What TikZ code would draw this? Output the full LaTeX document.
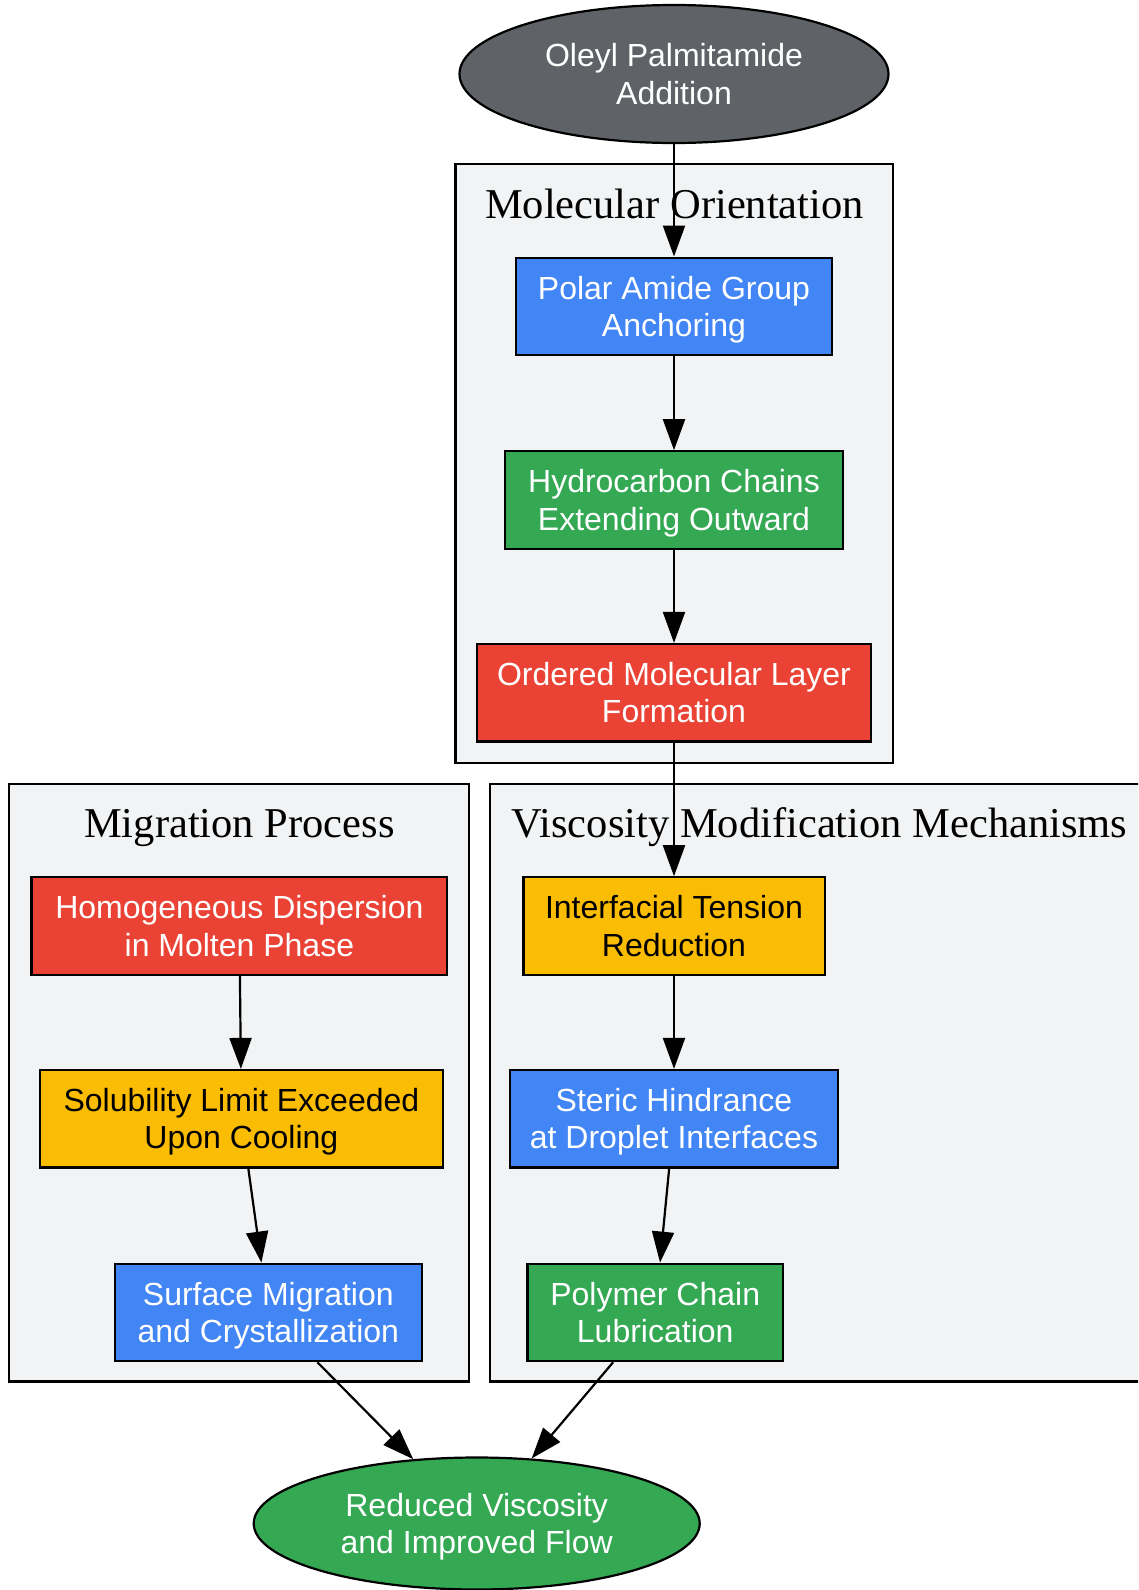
\documentclass[tikz,border=0pt]{standalone}
\usepackage{fontspec}
\setmainfont{Liberation Sans}
\newfontfamily\titlefont{Liberation Serif}
\usetikzlibrary{arrows.meta,shapes.geometric}
\definecolor{cgray}{HTML}{5F6368}
\definecolor{cblue}{HTML}{4285F4}
\definecolor{cgreen}{HTML}{34A853}
\definecolor{cred}{HTML}{EA4335}
\definecolor{cyellow}{HTML}{FBBC04}
\definecolor{clusterbg}{HTML}{F1F3F4}
\newcommand{\ls}{\rule[-7.1pt]{0pt}{37.1pt}}
\begin{document}
\begin{tikzpicture}[x=1pt,y=-1pt,
  box/.style={draw=black,line width=2.2pt,rectangle,inner sep=0pt,minimum height=97.4pt,align=center,font=\fontsize{32}{37.5}\selectfont,text=white},
  oval/.style={draw=black,line width=2.2pt,ellipse,inner sep=0pt,align=center,font=\fontsize{32}{37.5}\selectfont,text=white},
  cluster/.style={draw=black,line width=2.2pt,fill=clusterbg},
  ctitle/.style={anchor=base,inner sep=0pt,font=\titlefont\fontsize{42.5}{51}\selectfont},
  edge/.style={line width=2.2pt,-{Triangle[length=31pt,width=22pt]}}]
\useasboundingbox (0,0) rectangle (1138,1590);
\clip (0,0) rectangle (1138,1590);
% clusters
\draw[cluster] (455.4,164.3) rectangle (892.6,762.7);
\node[ctitle] (t1) at (674.5,218.1) {Molecular Orientation};
\draw[cluster] (9.1,784) rectangle (468.6,1381.4);
\node[ctitle] (t2) at (239.4,837.8) {Migration Process};
\draw[cluster] (489.9,784) rectangle (1150,1381.4);
\node[ctitle] (t3) at (819.5,837.8) {Viscosity Modification Mechanisms};
% nodes
\node[oval,fill=cgray,minimum width=429pt,minimum height=138pt] (start) at (674,74) {\ls Oleyl Palmitamide\\\ls Addition};
\node[box,fill=cblue,minimum width=315.4pt] (polar) at (674,306.3) {\ls Polar Amide Group\\\ls Anchoring};
\node[box,fill=cgreen,minimum width=337.8pt] (hydro) at (674,500) {\ls Hydrocarbon Chains\\\ls Extending Outward};
\node[box,fill=cred,minimum width=394.6pt] (ordered) at (674,692.7) {\ls Ordered Molecular Layer\\\ls Formation};
\node[box,fill=cred,minimum width=415.9pt] (homog) at (239.4,926) {\ls Homogeneous Dispersion\\\ls in Molten Phase};
\node[box,fill=cyellow,text=black,minimum width=403.6pt] (solub) at (241.4,1118.7) {\ls Solubility Limit Exceeded\\\ls Upon Cooling};
\node[box,fill=cblue,minimum width=307.3pt] (surface) at (268.3,1312.4) {\ls Surface Migration\\\ls and Crystallization};
\node[box,fill=cyellow,text=black,minimum width=301.2pt] (interf) at (674,926) {\ls Interfacial Tension\\\ls Reduction};
\node[box,fill=cblue,minimum width=327.6pt] (steric) at (674,1118.7) {\ls Steric Hindrance\\\ls at Droplet Interfaces};
\node[box,fill=cgreen,minimum width=255.6pt] (polymer) at (655.2,1312.4) {\ls Polymer Chain\\\ls Lubrication};
\node[oval,fill=cgreen,minimum width=446pt,minimum height=132pt] (result) at (476.7,1523.5) {\ls Reduced Viscosity\\\ls and Improved Flow};
% edges
\draw[edge] (start) -- (polar);
\draw[edge] (polar) -- (hydro);
\draw[edge] (hydro) -- (ordered);
\draw[edge] (ordered) -- (interf);
\draw[edge] (homog) -- (solub);
\draw[edge] (solub) -- (surface);
\draw[edge] (interf) -- (steric);
\draw[edge] (steric) -- (polymer);
\draw[edge] (surface) -- (result);
\draw[edge] (polymer) -- (result);
\end{tikzpicture}
\end{document}
